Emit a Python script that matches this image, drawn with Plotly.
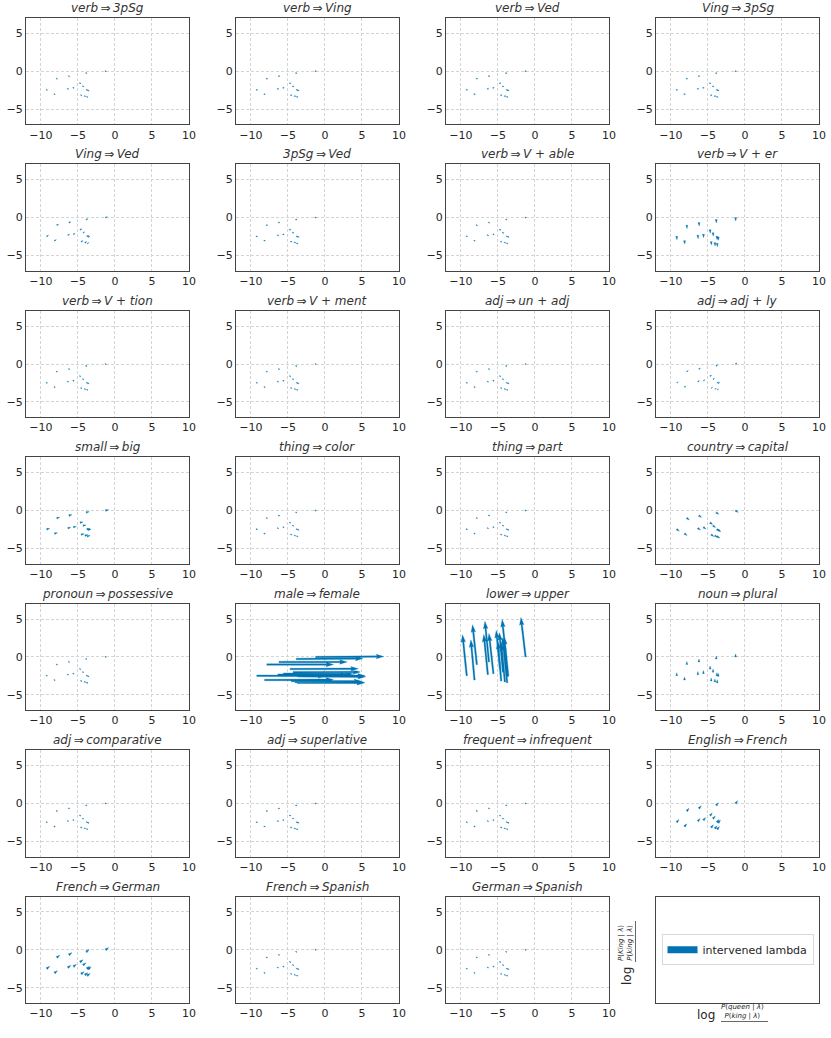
import math
import plotly.graph_objects as go
from plotly.subplots import make_subplots

BLUE = "#0173b2"
FONT = "DejaVu Sans"

TITLES = [
    "<i>verb</i>\u2009⇒\u2009<i>3pSg</i>", "<i>verb</i>\u2009⇒\u2009<i>Ving</i>",
    "<i>verb</i>\u2009⇒\u2009<i>Ved</i>", "<i>Ving</i>\u2009⇒\u2009<i>3pSg</i>",
    "<i>Ving</i>\u2009⇒\u2009<i>Ved</i>", "<i>3pSg</i>\u2009⇒\u2009<i>Ved</i>",
    "<i>verb</i>\u2009⇒\u2009<i>V</i> + <i>able</i>", "<i>verb</i>\u2009⇒\u2009<i>V</i> + <i>er</i>",
    "<i>verb</i>\u2009⇒\u2009<i>V</i> + <i>tion</i>", "<i>verb</i>\u2009⇒\u2009<i>V</i> + <i>ment</i>",
    "<i>adj</i>\u2009⇒\u2009<i>un</i> + <i>adj</i>", "<i>adj</i>\u2009⇒\u2009<i>adj</i> + <i>ly</i>",
    "<i>small</i>\u2009⇒\u2009<i>big</i>", "<i>thing</i>\u2009⇒\u2009<i>color</i>",
    "<i>thing</i>\u2009⇒\u2009<i>part</i>", "<i>country</i>\u2009⇒\u2009<i>capital</i>",
    "<i>pronoun</i>\u2009⇒\u2009<i>possessive</i>", "<i>male</i>\u2009⇒\u2009<i>female</i>",
    "<i>lower</i>\u2009⇒\u2009<i>upper</i>", "<i>noun</i>\u2009⇒\u2009<i>plural</i>",
    "<i>adj</i>\u2009⇒\u2009<i>comparative</i>", "<i>adj</i>\u2009⇒\u2009<i>superlative</i>",
    "<i>frequent</i>\u2009⇒\u2009<i>infrequent</i>", "<i>English</i>\u2009⇒\u2009<i>French</i>",
    "<i>French</i>\u2009⇒\u2009<i>German</i>", "<i>French</i>\u2009⇒\u2009<i>Spanish</i>",
    "<i>German</i>\u2009⇒\u2009<i>Spanish</i>",
]

# base lambda positions (tails of arrows)
X0 = [-1.26, -3.87, -6.2, -7.84, -4.7, -4.3, -5.6, -6.35, -9.2, -3.78, -3.6, -8.15, -4.55, -4.05, -3.74]
Y0 = [0.0, -0.26, -0.66, -1.0, -1.6, -2.0, -2.2, -2.33, -2.47, -2.47, -2.55, -3.04, -3.17, -3.3, -3.4]

# one shift per panel for the panels with (almost) uniform small arrows
SHIFT_DX = [0.05, 0.1, 0.08, 0.1, 0.25, 0.1, 0.02, 0.03, 0.02, 0.02, 0.05, 0.2, 0.4, 0.05,
            0.05, 0.35, 0.05, 0.0, 0.0, 0.0, 0.03, 0.08, 0.02, 0.3, 0.4, 0.05, 0.05]
SHIFT_DY = [0.0, 0.05, 0.05, 0.05, 0.12, 0.05, 0.0, -0.45, 0.0, 0.0, 0.0, 0.15, 0.1, 0.0,
            0.0, -0.25, 0.0, 0.0, 0.0, 0.4, 0.0, 0.03, 0.0, 0.35, 0.3, 0.0, 0.0]

# per-point arrows for the two large panels
MALE_DX = [9.2, 9.0, 9.2, 9.0, 9.2, 9.1, 9.4, 9.5, 9.3, 9.2, 9.1, 9.3, 9.5, 9.4, 9.1]
MALE_DY = [0.05, 0.05, 0.0, 0.0, 0.05, 0.02, -0.05, 0.0, -0.05, 0.0, -0.05, 0.05, -0.05, -0.05, 0.0]
UPPER_DX = [-0.63, -0.55, -0.55, -0.58, -0.52, -0.5, -0.6, -0.55, -0.57, -0.6, -0.55, -0.5, -0.45, -0.5, -0.55]
UPPER_DY = [5.2, 5.2, 5.36, 5.25, 5.1, 5.2, 5.3, 5.3, 5.4, 5.0, 5.2, 5.3, 5.2, 5.1, 5.3]

X_RANGE = [-12, 10]
Y_RANGE = [-7, 7]
X_TICKS = [-10, -5, 0, 5, 10]
Y_TICKS = [-5, 0, 5]

W, H = 831, 1038
L_M, R_M, T_M, B_M = 26, 12, 18, 35
GAP_X, GAP_Y = 47, 40.2
plot_w = W - L_M - R_M
plot_h = H - T_M - B_M
cell_w = (plot_w - 3 * GAP_X) / 4
cell_h = (plot_h - 6 * GAP_Y) / 7
sx = cell_w / (X_RANGE[1] - X_RANGE[0])   # px per data unit
sy = cell_h / (Y_RANGE[1] - Y_RANGE[0])


def quiver_polys(x0s, y0s, dxs, dys, w=1.5):
    """matplotlib-like quiver arrow outlines (pivot at tail), in data units"""
    xs, ys = [], []
    for x0, y0, dx, dy in zip(x0s, y0s, dxs, dys):
        ux, uy = dx * sx, dy * sy
        L = math.hypot(ux, uy) / w
        ang = math.atan2(uy, ux)
        if L < 1:
            pts = [(0.5 * math.cos(k * math.pi / 3), 0.5 * math.sin(k * math.pi / 3)) for k in range(7)]
        elif L < 5:
            s = L / 5
            pts = [(a * s, b * s) for a, b in
                   [(0, 0.5), (0.5, 0.5), (0, 1.5), (5, 0), (0, -1.5), (0.5, -0.5), (0, -0.5), (0, 0.5)]]
        else:
            pts = [(0, 0.5), (L - 4.5, 0.5), (L - 5, 1.5), (L, 0), (L - 5, -1.5),
                   (L - 4.5, -0.5), (0, -0.5), (0, 0.5)]
        c, s_ = math.cos(ang), math.sin(ang)
        for a, b in pts:
            xs.append(x0 + (a * c - b * s_) * w / sx)
            ys.append(y0 + (a * s_ + b * c) * w / sy)
        xs.append(None)
        ys.append(None)
    return xs, ys


fig = make_subplots(rows=7, cols=4, subplot_titles=TITLES + [""],
                    horizontal_spacing=GAP_X / plot_w, vertical_spacing=GAP_Y / plot_h)

for i in range(27):
    r, c = i // 4 + 1, i % 4 + 1
    if i == 17:
        dx, dy = MALE_DX, MALE_DY
    elif i == 18:
        dx, dy = UPPER_DX, UPPER_DY
    else:
        dx = [SHIFT_DX[i]] * len(X0)
        dy = [SHIFT_DY[i]] * len(X0)
    xs, ys = quiver_polys(X0, Y0, dx, dy)
    fig.add_trace(go.Scatter(x=xs, y=ys, mode="lines", fill="toself", fillcolor=BLUE,
                             line=dict(width=0.3, color=BLUE), hoverinfo="skip",
                             showlegend=False), row=r, col=c)
    fig.update_xaxes(range=X_RANGE, tickvals=X_TICKS, showgrid=True, gridcolor="#d4d4d4",
                     griddash="3px,2px", gridwidth=0.8, row=r, col=c)
    fig.update_yaxes(range=Y_RANGE, tickvals=Y_TICKS, showgrid=True, gridcolor="#d4d4d4",
                     griddash="3px,2px", gridwidth=0.8, row=r, col=c)

# legend-only trace in the last cell
fig.add_trace(go.Scatter(x=[None], y=[None], mode="lines", line=dict(color=BLUE, width=7),
                         name="intervened lambda", showlegend=True), row=7, col=4)
fig.update_xaxes(range=X_RANGE, showticklabels=False, showgrid=False, row=7, col=4)
fig.update_yaxes(range=Y_RANGE, showticklabels=False, showgrid=False, row=7, col=4)

fig.update_xaxes(zeroline=False, showline=True, mirror=True, linecolor="#444444", linewidth=1.2,
                 ticks="", automargin=False,
                 tickfont=dict(size=11, color="#262626", family=FONT), fixedrange=True)
fig.update_yaxes(zeroline=False, showline=True, mirror=True, linecolor="#444444", linewidth=1.2,
                 ticks="", automargin=False,
                 tickfont=dict(size=11, color="#262626", family=FONT), fixedrange=True)

for ann in fig.layout.annotations:
    ann.font = dict(size=12, color="#333333", family=FONT)
    ann.yshift = 1


def px2paper(x, y):
    return (x - L_M) / plot_w, 1 - (y - T_M) / plot_h


dom_x = fig.layout.xaxis28.domain
dom_y = fig.layout.yaxis28.domain
cx = (dom_x[0] + dom_x[1]) / 2
cy = (dom_y[0] + dom_y[1]) / 2

# axis labels of the last cell, written as log of a fraction
num_x = "<i>P</i>(<i>queen</i> | <i>λ</i>)"
den_x = "<i>P</i>(<i>king</i> | <i>λ</i>)"
num_y = "<i>P</i>(<i>King</i> | <i>λ</i>)"
den_y = "<i>P</i>(<i>king</i> | <i>λ</i>)"
LAB = dict(size=12, color="#262626", family=FONT)
FRAC = dict(size=7, color="#262626", family=FONT)

lx, ly = px2paper(717, 1024)
fig.add_annotation(x=lx, y=ly, xref="paper", yref="paper", text="log", showarrow=False,
                   xanchor="right", font=LAB)
fx, fy = px2paper(719, 1021.5)
fig.add_annotation(x=fx, y=fy, xref="paper", yref="paper", text=num_x + "<br>" + den_x,
                   xanchor="left", showarrow=False, font=FRAC)
a0, b0 = px2paper(721, 1021.5)
a1, b1 = px2paper(768, 1021.5)
fig.add_shape(type="line", xref="paper", yref="paper", x0=a0, y0=b0, x1=a1, y1=b1,
              line=dict(color="#262626", width=0.7))

lx, ly = px2paper(636, 965)
fig.add_annotation(x=lx, y=ly, xref="paper", yref="paper", text="log", showarrow=False,
                   textangle=-90, yanchor="top", font=LAB)
fx, fy = px2paper(635.5, 963)
fig.add_annotation(x=fx, y=fy, xref="paper", yref="paper", text=num_y + "<br>" + den_y,
                   showarrow=False, textangle=-90, yanchor="bottom", font=FRAC)
a0, b0 = px2paper(635.5, 921)
a1, b1 = px2paper(635.5, 962)
fig.add_shape(type="line", xref="paper", yref="paper", x0=a0, y0=b0, x1=a1, y1=b1,
              line=dict(color="#262626", width=0.7))

fig.update_layout(
    width=W, height=H,
    margin=dict(l=L_M, r=R_M, t=T_M, b=B_M),
    plot_bgcolor="white", paper_bgcolor="white",
    font=dict(family=FONT, color="#262626"),
    legend=dict(x=cx, y=cy, xanchor="center", yanchor="middle", bgcolor="white",
                bordercolor="#d9d9d9", borderwidth=1, font=dict(size=11, family=FONT),
                itemwidth=30),
)

# drop the default 8px page margin so the figure sits at the window's corner
fig.write_html("out.html", config={"displayModeBar": False},
               post_script="document.body.style.margin='0';")
